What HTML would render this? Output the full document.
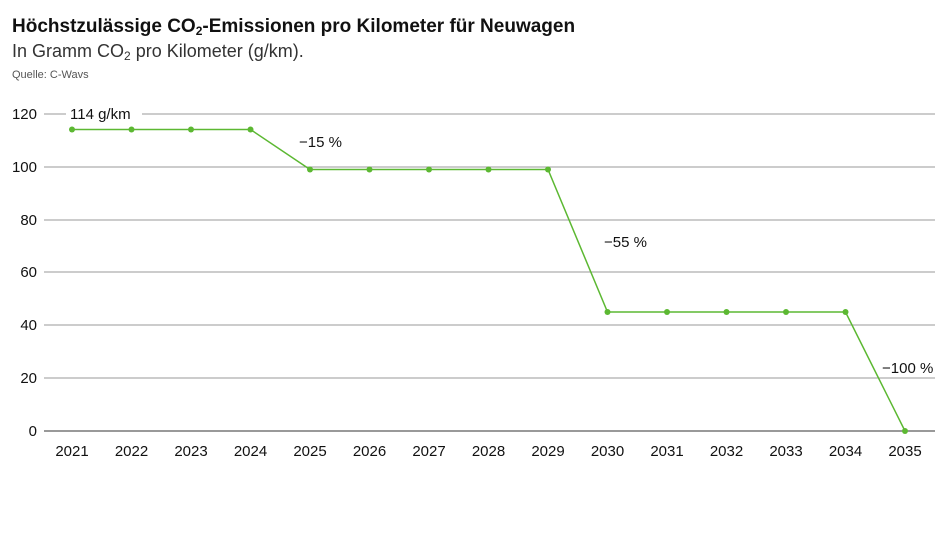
<!DOCTYPE html>
<html><head><meta charset="utf-8"><style>
body{margin:0;width:945px;height:532px;background:#fff;overflow:hidden;font-family:"Liberation Sans",sans-serif;}
</style></head><body>
<svg width="945" height="532" xmlns="http://www.w3.org/2000/svg" font-family="Liberation Sans, sans-serif">
<text x="12" y="32" font-size="19" font-weight="bold" fill="#111">Höchstzulässige CO<tspan font-size="12" dy="3">2</tspan><tspan dy="-3">-Emissionen pro Kilometer für Neuwagen</tspan></text>
<text x="12" y="57" font-size="18" fill="#333">In Gramm CO<tspan font-size="12" dy="3">2</tspan><tspan dy="-3"> pro Kilometer (g/km).</tspan></text>
<text x="12" y="78" font-size="11" fill="#555">Quelle: C-Wavs</text>
<g stroke="#999" stroke-width="1">
<line x1="44" x2="935" y1="114" y2="114"/>
<line x1="44" x2="935" y1="167" y2="167"/>
<line x1="44" x2="935" y1="220" y2="220"/>
<line x1="44" x2="935" y1="272" y2="272"/>
<line x1="44" x2="935" y1="325" y2="325"/>
<line x1="44" x2="935" y1="378" y2="378"/>
<line x1="44" x2="935" y1="431" y2="431" stroke="#333"/>
</g>
<g font-size="15" fill="#111" text-anchor="end">
<text x="37" y="119">120</text><text x="37" y="172">100</text><text x="37" y="225">80</text>
<text x="37" y="277">60</text><text x="37" y="330">40</text><text x="37" y="383">20</text><text x="37" y="436">0</text>
</g>
<rect x="66" y="104" width="76" height="20" fill="#fff"/>
<text x="70" y="119" font-size="15" fill="#111">114 g/km</text>
<g font-size="15" fill="#111" text-anchor="middle">
<text x="72" y="456">2021</text><text x="131.5" y="456">2022</text><text x="191" y="456">2023</text><text x="250.5" y="456">2024</text><text x="310" y="456">2025</text><text x="369.5" y="456">2026</text><text x="429" y="456">2027</text><text x="488.5" y="456">2028</text><text x="548" y="456">2029</text><text x="607.5" y="456">2030</text><text x="667" y="456">2031</text><text x="726.5" y="456">2032</text><text x="786" y="456">2033</text><text x="845.5" y="456">2034</text><text x="905" y="456">2035</text>
</g>
<g font-size="15" fill="#111">
<text x="299" y="147">−15 %</text><text x="604" y="247">−55 %</text><text x="882" y="373">−100 %</text>
</g>
<polyline fill="none" stroke="#5cb832" stroke-width="1.5" points="72,129.5 250.5,129.5 310,169.5 548,169.5 607.5,312 845.5,312 905,431"/>
<g fill="#5cb832">
<circle cx="72" cy="129.5" r="3"/><circle cx="131.5" cy="129.5" r="3"/><circle cx="191" cy="129.5" r="3"/><circle cx="250.5" cy="129.5" r="3"/>
<circle cx="310" cy="169.5" r="3"/><circle cx="369.5" cy="169.5" r="3"/><circle cx="429" cy="169.5" r="3"/><circle cx="488.5" cy="169.5" r="3"/><circle cx="548" cy="169.5" r="3"/>
<circle cx="607.5" cy="312" r="3"/><circle cx="667" cy="312" r="3"/><circle cx="726.5" cy="312" r="3"/><circle cx="786" cy="312" r="3"/><circle cx="845.5" cy="312" r="3"/>
<circle cx="905" cy="431" r="3"/>
</g>
</svg>
</body></html>
